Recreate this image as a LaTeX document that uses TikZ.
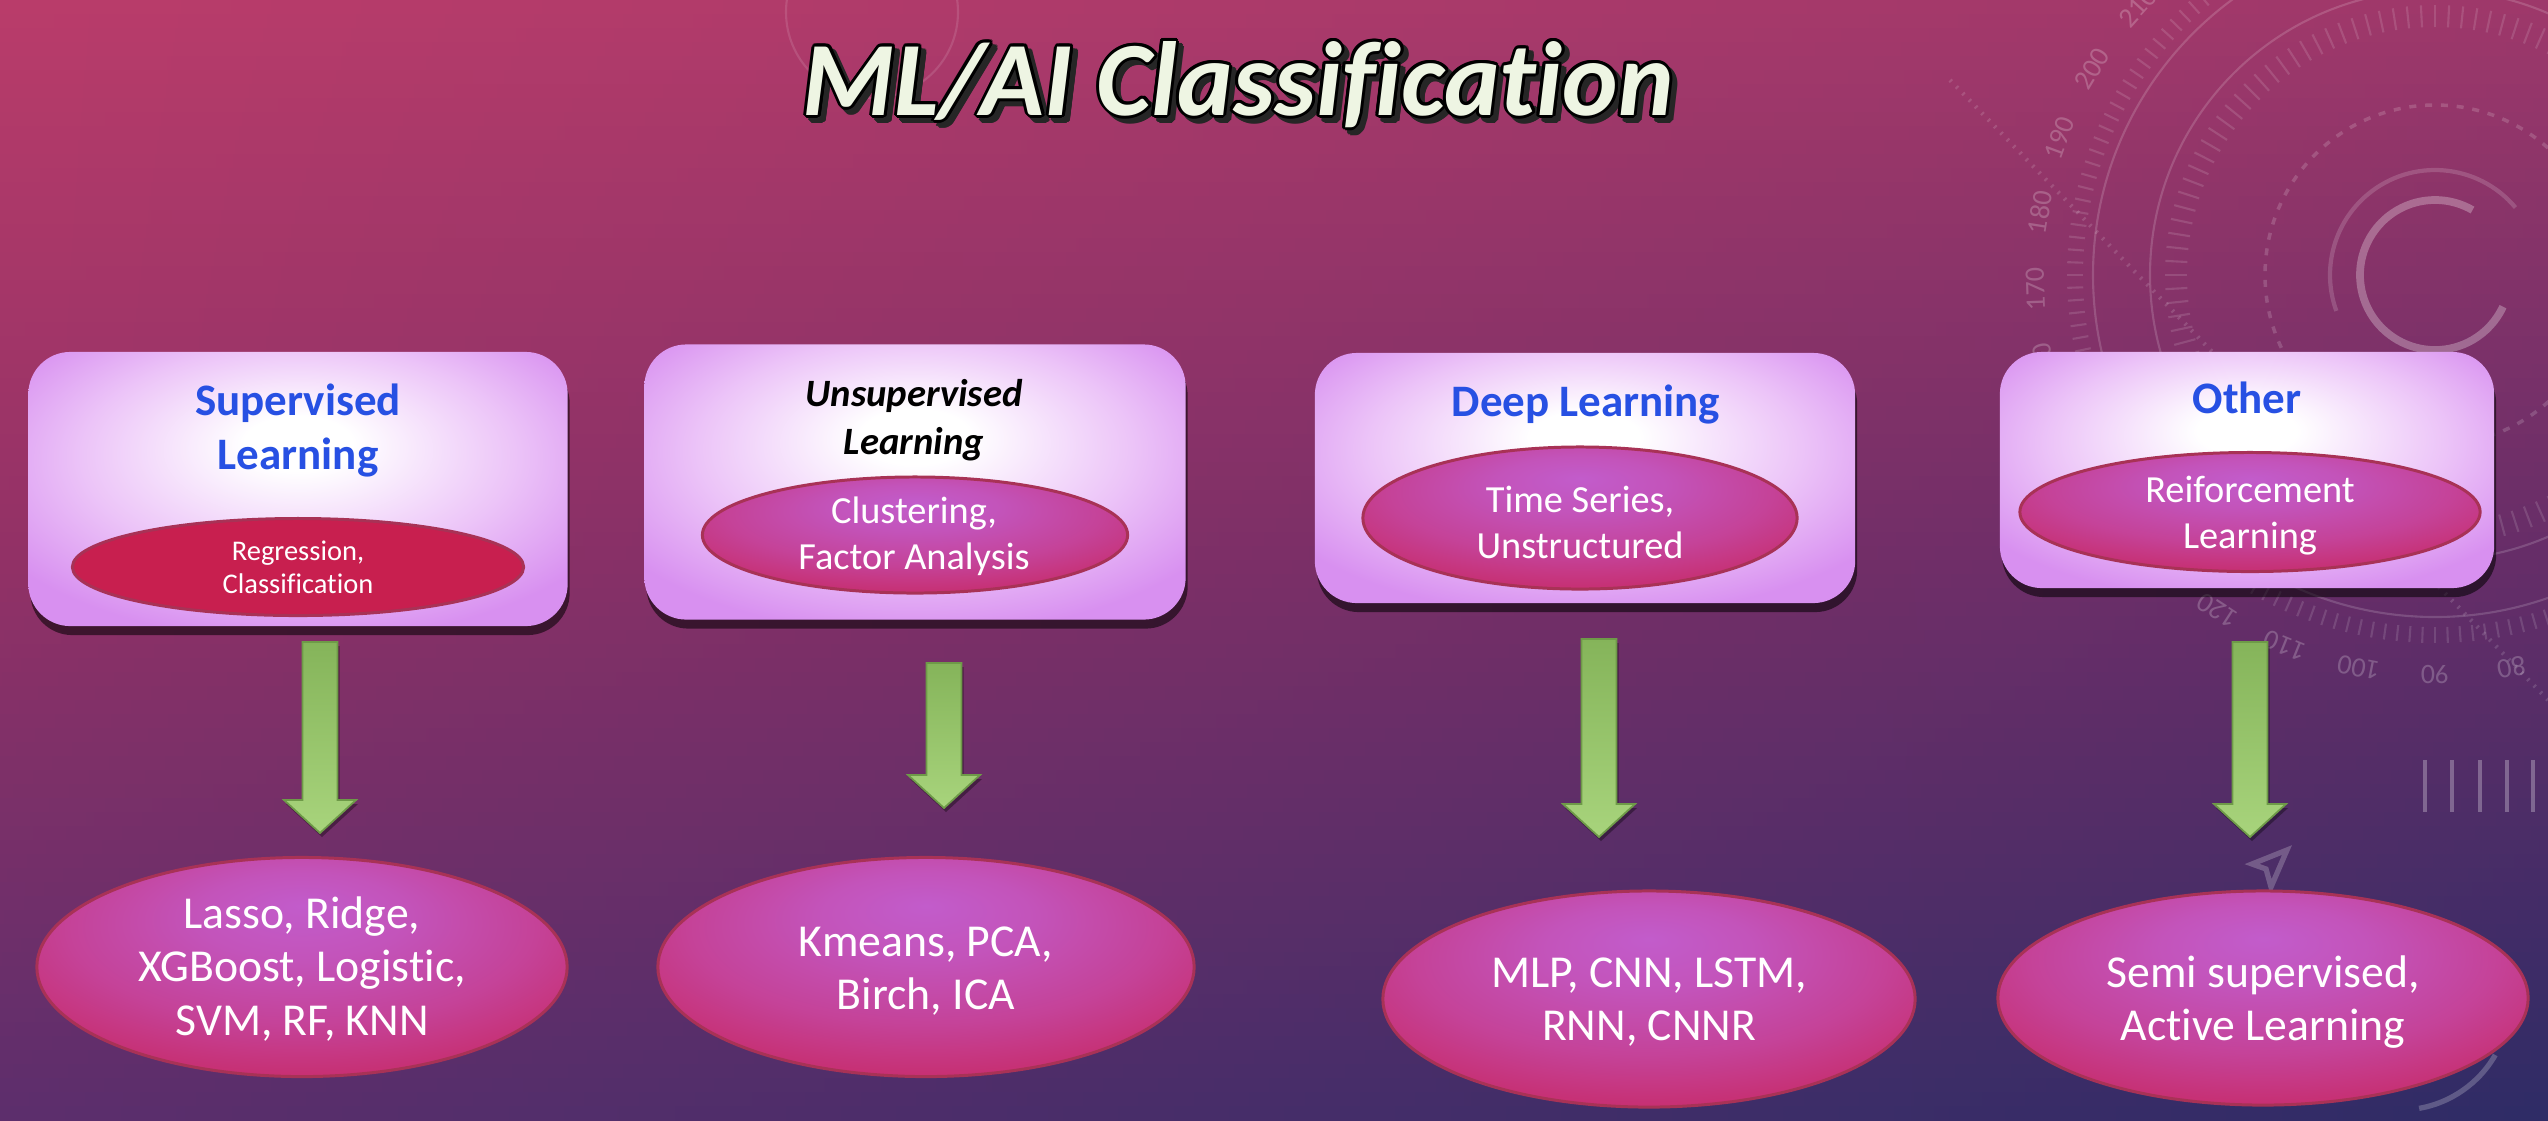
\documentclass[tikz,border=0pt]{standalone}
\usepackage{fontspec}
\setmainfont{Carlito}[Ligatures=NoCommon]
\usetikzlibrary{shapes.geometric,shadows,calc}

% background corner tones (left / right column, top / middle / bottom)
\definecolor{ltop}{HTML}{BA3C6A}
\definecolor{lmid}{HTML}{923166}
\definecolor{lbot}{HTML}{5C2E6C}
\definecolor{rtop}{HTML}{9E386A}
\definecolor{rmid}{HTML}{652D68}
\definecolor{rbot}{HTML}{2E2C66}

\definecolor{lav}{HTML}{D890F0}
\definecolor{lavlight}{HTML}{ECC4F8}
\definecolor{hdblue}{HTML}{2750E3}
\definecolor{crim}{HTML}{C8235A}
\definecolor{crimsolid}{HTML}{C81F4F}
\definecolor{orchid}{HTML}{C25CCB}
\definecolor{ringline}{HTML}{A83256}
\definecolor{arrtop}{HTML}{85B45A}
\definecolor{arrbot}{HTML}{A8D47C}
\definecolor{arredge}{HTML}{6E9A48}
\definecolor{ttlfill}{HTML}{EEF5E3}

% lavender panels with a bright spot near the top
\pgfdeclareradialshading{boxshade}{\pgfpoint{0bp}{9bp}}{color(0bp)=(white); color(5bp)=(white); color(20bp)=(lavlight); color(32bp)=(lav); color(60bp)=(lav)}
% orchid-to-crimson ovals
\pgfdeclareradialshading{ovalshade}{\pgfpoint{0bp}{14bp}}{color(0bp)=(orchid); color(10bp)=(orchid!85!crim); color(22bp)=(orchid!55!crim); color(32bp)=(orchid!20!crim); color(42bp)=(crim); color(60bp)=(crim)}

\begin{document}
\begin{tikzpicture}[x=0.01cm, y=-0.01cm,
  ttl/.style={anchor=base, inner sep=0, font=\fontsize{30}{34}\selectfont\bfseries\itshape},
  catbox/.style={rectangle, rounded corners=0.42cm, shading=boxshade, inner sep=0,
    drop shadow={shadow xshift=0.02cm, shadow yshift=-0.09cm, opacity=0.55, fill=black}},
  hdtext/.style={anchor=base, inner sep=0, text=hdblue, font=\fontsize{12.8}{15.4}\selectfont\bfseries},
  subtext/.style={anchor=base, inner sep=0, text=white, font=\fontsize{10.9}{13.1}\selectfont},
  oval/.style={ellipse, inner sep=0, draw=ringline, line width=0.85pt, shading=ovalshade},
  leaftext/.style={anchor=base, inner sep=0, text=white, font=\fontsize{13}{15.3}\selectfont},
  greenarrow/.style={draw=arredge, line width=0.5pt, top color=arrtop, bottom color=arrbot, line join=miter,
    drop shadow={shadow xshift=0.02cm, shadow yshift=-0.04cm, opacity=0.35, fill=black}},
  dial/.style={draw=white, line width=0.6pt, opacity=0.16}
]
\useasboundingbox (0,0) rectangle (2548,1120);
\clip (0,0) rectangle (2548,1120);

% ---- background: thin horizontal bands, each shaded left to right
\foreach \i in {0,...,79}{
  \pgfmathsetmacro\ya{\i*14}
  \pgfmathsetmacro\yb{\i*14+14.6}
  \pgfmathsetmacro\pa{max(0,min(100,100*(1-2*(\i+0.5)/80)))}
  \pgfmathsetmacro\pb{max(0,min(100,100*(2-2*(\i+0.5)/80)))}
  \colorlet{lhalf}{ltop!\pa!lmid}
  \colorlet{rhalf}{rtop!\pa!rmid}
  \colorlet{lcol}{lhalf!\pb!lbot}
  \colorlet{rcol}{rhalf!\pb!rbot}
  \shade[left color=lcol, right color=rcol] (0,\ya) rectangle (2548,\yb);
}

% ---- faint dial ornament, upper right
\coordinate (dialc) at (2435,275);
\draw[dial] (dialc) circle (342);
\draw[dial] (dialc) circle (285);
\draw[dial, dash pattern=on 2pt off 2.5pt, line width=1pt] (dialc) circle (170);
\draw[dial, line width=1.2pt] (dialc) ++(-40:105) arc (-40:-200:105);
\draw[dial, line width=2.2pt, opacity=0.28] (dialc) ++(-60:75) arc (-60:-335:75);
\foreach \a in {0,2,...,358} \draw[dial, opacity=0.13] (dialc) ++(\a:352) -- ++(\a:16);
\foreach \a in {0,3,...,357} \draw[dial, opacity=0.13] (dialc) ++(\a:248) -- ++(\a:22);
\foreach \v in {80,90,...,210}{
  \pgfmathsetmacro\ang{270-1.1*(\v-90)}
  \node[text=white, opacity=0.22, font=\fontsize{8}{9}\selectfont, rotate=\ang-90, inner sep=0]
    (dialnum\v) at ($(dialc)+({-\ang}:400)$) {\v};
}
\coordinate (dotA) at (1950,80);
\coordinate (dotB) at (2548,700);
\draw[dial, dotted, line width=1.2pt, opacity=0.14] (dotA) -- (dotB);
\draw[dial, line width=1.5pt, opacity=0.22] (2287,850) -- (2252,864) -- (2266,869) -- (2271,887) -- cycle;
\foreach \x in {2425,2452,2480,2507,2533} \draw[dial, line width=1.2pt, opacity=0.28] (\x,760) -- (\x,812);
\coordinate (lowdial) at (2400,1000);
\draw[dial, line width=1.5pt, opacity=0.22] (lowdial) ++(80:110) arc (80:30:110);
\coordinate (ringc) at (872,12);
\draw[dial, opacity=0.12] (ringc) circle (86);

% ---- title: dark drop copy, black outline, light face
\foreach \k in {0,30,...,330}{
  \path (1243,120) ++(\k:3) node[ttl, text=black!85] (ttlshadow\k) {ML/AI Classification};
}
\foreach \k in {0,30,...,330}{
  \path (1238,115) ++(\k:3) node[ttl, text=black] (ttledge\k) {ML/AI Classification};
}
\node[ttl, text=ttlfill] (title) at (1238,115) {ML/AI Classification};

% ---- category panels
\node[catbox, minimum width=5.39cm, minimum height=2.74cm] (sup) at (298,489) {};
\node[catbox, minimum width=5.41cm, minimum height=2.75cm] (uns) at (915,482) {};
\node[catbox, minimum width=5.40cm, minimum height=2.50cm] (deep) at (1585,478) {};
\node[catbox, minimum width=4.94cm, minimum height=2.36cm] (oth) at (2247,470) {};

\node[hdtext] (suphd) at (298,415) {\begin{tabular}[t]{@{}c@{}}Supervised\\Learning\end{tabular}};
\node[anchor=base, inner sep=0, text=black, font=\fontsize{11}{13.9}\selectfont\bfseries\itshape]
  (unshd) at (914,406) {\begin{tabular}[t]{@{}c@{}}Unsupervised\\Learning\end{tabular}};
\node[hdtext] (deephd) at (1586,416) {Deep Learning};
\node[hdtext] (othhd) at (2247,413) {Other};

% ---- inner ovals
\node[ellipse, inner sep=0, draw=ringline, line width=0.85pt, fill=crimsolid,
  minimum width=4.51cm, minimum height=0.97cm] (supov) at (298,567) {};
\node[oval, minimum width=4.25cm, minimum height=1.16cm] (unsov) at (915,535) {};
\node[oval, minimum width=4.34cm, minimum height=1.42cm] (deepov) at (1580,518) {};
\node[oval, minimum width=4.60cm, minimum height=1.19cm] (othov) at (2250,512) {};

\node[anchor=base, inner sep=0, text=white, font=\fontsize{8.1}{9.4}\selectfont]
  (supovt) at (298,560) {\begin{tabular}[t]{@{}c@{}}Regression,\\Classification\end{tabular}};
\node[subtext] (unsovt) at (914,523) {\begin{tabular}[t]{@{}c@{}}Clustering,\\Factor Analysis\end{tabular}};
\node[subtext] (deepovt) at (1580,512) {\begin{tabular}[t]{@{}c@{}}Time Series,\\Unstructured\end{tabular}};
\node[subtext] (othovt) at (2250,502) {\begin{tabular}[t]{@{}c@{}}Reiforcement\\Learning\end{tabular}};

% ---- green block arrows
\coordinate (arr1) at (320,642);
\coordinate (arr2) at (944,663);
\coordinate (arr3) at (1599,639);
\coordinate (arr4) at (2250,642);
\foreach \n/\len in {arr1/191, arr2/145, arr3/198, arr4/195}{
  \draw[greenarrow] (\n) ++(-17.5,0) -- ++(35,0) -- ++(0,{\len-33}) -- ++(18.5,0)
    -- ++(-36,33) -- ++(-36,-33) -- ++(18.5,0) -- cycle;
}

% ---- method ovals
\node[oval, minimum width=5.30cm, minimum height=2.19cm] (supm) at (302,967) {};
\node[oval, minimum width=5.36cm, minimum height=2.19cm] (unsm) at (926,967) {};
\node[oval, minimum width=5.32cm, minimum height=2.16cm] (deepm) at (1649,999) {};
\node[oval, minimum width=5.30cm, minimum height=2.14cm] (othm) at (2263,998) {};

\node[leaftext] (supmt) at (302,928) {\begin{tabular}[t]{@{}c@{}}Lasso, Ridge,\\XGBoost, Logistic,\\SVM, RF, KNN\end{tabular}};
\node[leaftext] (unsmt) at (926,956) {\begin{tabular}[t]{@{}c@{}}Kmeans, PCA,\\Birch, ICA\end{tabular}};
\node[leaftext] (deepmt) at (1649,987) {\begin{tabular}[t]{@{}c@{}}MLP, CNN, LSTM,\\RNN, CNNR\end{tabular}};
\node[leaftext] (othmt) at (2263,987) {\begin{tabular}[t]{@{}c@{}}Semi supervised,\\Active Learning\end{tabular}};
\end{tikzpicture}
\end{document}
